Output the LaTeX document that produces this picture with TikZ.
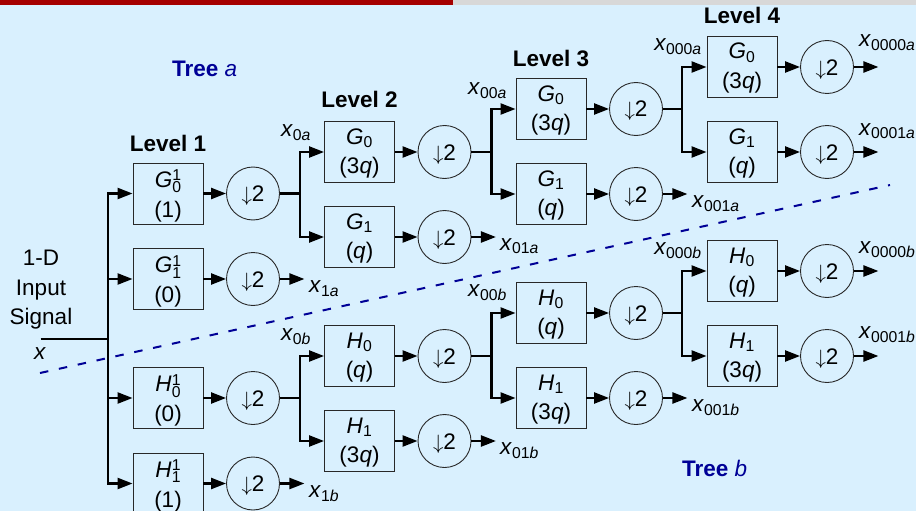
\documentclass[tikz,border=0pt]{standalone}
\usepackage{fontspec}
\setmainfont{Liberation Sans}
\usetikzlibrary{arrows.meta,calc}
\definecolor{bg}{RGB}{217,240,254}
\definecolor{navy}{RGB}{0,0,150}
\definecolor{barred}{RGB}{165,0,0}
\definecolor{bargray}{RGB}{216,216,216}
\definecolor{edge}{RGB}{40,40,40}
\newcommand{\xs}[1]{\textit{x}\textsubscript{#1}}
\newcommand{\smallfs}{\fontsize{15.75}{15.75}\selectfont}
\newcommand{\subsup}[3]{\textit{#1}\rlap{\raisebox{6.2pt}{\smallfs #3}}\raisebox{-5.5pt}{\smallfs #2}}
\newcommand{\boxlines}[5]{%
  \node[txt] (#1-u) at ([yshift=#2]#1.center) {#4};
  \node[txt] (#1-d) at ([yshift=-#3]#1.center) {#5};}
\begin{document}
\begin{tikzpicture}[x=1pt,y=-1pt,
  every node/.style={font=\fontsize{22.5}{30}\selectfont, inner sep=0pt},
  box/.style={draw=edge, line width=0.9pt, minimum width=70pt, minimum height=61pt},
  dsamp/.style={circle, draw=edge, line width=0.9pt, minimum size=53pt, text height=16pt, text depth=0pt},
  wire/.style={line width=2.3pt},
  arr/.style={wire, -{Triangle[length=15pt,width=11pt]}},
  txt/.style={anchor=base},
  outl/.style={anchor=base west},
  lvl/.style={anchor=base, font=\fontsize{22.5}{30}\selectfont\bfseries},
  tree/.style={anchor=base west, text=navy}]
\clip (0,0) rectangle (916,511);
\fill[bg] (0,0) rectangle (916,511);
\fill[barred] (0,0) rectangle (453,5);
\fill[bargray] (453,0) rectangle (916,5);

% dashed separator
\coordinate (dsA) at (40,373);
\coordinate (dsB) at (890,185);
\draw[navy, line width=2pt, dash pattern=on 8.5pt off 10.8pt] (dsA) -- (dsB);

% ---------- boxes ----------
% level 1
\node[box] (g1)  at (168,193.5) {};
\node[box] (g1b) at (168,279) {};
\node[box] (h1)  at (168,398) {};
\node[box] (h1b) at (168,483.5) {};
% level 2
\node[box] (g2)  at (359.5,152) {};
\node[box] (g2b) at (359.5,237) {};
\node[box] (h2)  at (359.5,356) {};
\node[box] (h2b) at (359.5,441) {};
% level 3
\node[box] (g3)  at (551,109) {};
\node[box] (g3b) at (551,194) {};
\node[box] (h3)  at (551,313) {};
\node[box] (h3b) at (551,398) {};
% level 4
\node[box] (g4)  at (742,67) {};
\node[box] (g4b) at (742,152) {};
\node[box] (h4)  at (742,271) {};
\node[box] (h4b) at (742,356) {};

\boxlines{g1}{6.5pt}{23.5pt}{\subsup{G}{0}{1}}{(1)}
\boxlines{g1b}{6.5pt}{23.5pt}{\subsup{G}{1}{1}}{(0)}
\boxlines{h1}{6.5pt}{23.5pt}{\subsup{H}{0}{1}}{(0)}
\boxlines{h1b}{6.5pt}{23.5pt}{\subsup{H}{1}{1}}{(1)}
\boxlines{g2}{8pt}{21.5pt}{\textit{G}\textsubscript{0}}{(3\textit{q})}
\boxlines{g2b}{8pt}{21.5pt}{\textit{G}\textsubscript{1}}{(\textit{q})}
\boxlines{h2}{8pt}{21.5pt}{\textit{H}\textsubscript{0}}{(\textit{q})}
\boxlines{h2b}{8pt}{21.5pt}{\textit{H}\textsubscript{1}}{(3\textit{q})}
\boxlines{g3}{8pt}{21.5pt}{\textit{G}\textsubscript{0}}{(3\textit{q})}
\boxlines{g3b}{8pt}{21.5pt}{\textit{G}\textsubscript{1}}{(\textit{q})}
\boxlines{h3}{8pt}{21.5pt}{\textit{H}\textsubscript{0}}{(\textit{q})}
\boxlines{h3b}{8pt}{21.5pt}{\textit{H}\textsubscript{1}}{(3\textit{q})}
\boxlines{g4}{8pt}{21.5pt}{\textit{G}\textsubscript{0}}{(3\textit{q})}
\boxlines{g4b}{8pt}{21.5pt}{\textit{G}\textsubscript{1}}{(\textit{q})}
\boxlines{h4}{8pt}{21.5pt}{\textit{H}\textsubscript{0}}{(\textit{q})}
\boxlines{h4b}{8pt}{21.5pt}{\textit{H}\textsubscript{1}}{(3\textit{q})}

% ---------- downsamplers ----------
\foreach \n/\cx in {g1/253,g1b/253,h1/253,h1b/253,g2/444.5,g2b/444.5,h2/444.5,h2b/444.5,
                    g3/636,g3b/636,h3/636,h3b/636,g4/827,g4b/827,h4/827,h4b/827}
  \node[dsamp] (d\n) at (\n.center -| \cx,0) {$\downarrow$2};
\foreach \n in {g1,g1b,h1,h1b,g2,g2b,h2,h2b,g3,g3b,h3,h3b,g4,g4b,h4,h4b}
  \draw[arr] (\n.east) -- (d\n.west);

% ---------- input ----------
\node[txt] (in1) at (41,265) {1-D};
\node[txt] (in2) at (41,295) {Input};
\node[txt] (in3) at (41,324) {Signal};
\node[txt] (inx) at (40,359) {\textit{x}};
\coordinate (in) at (40.5,339);
\coordinate (j1) at (108,339);
\draw[wire] (in) -- (j1);
\foreach \n in {g1,g1b,h1,h1b} \draw[arr] (j1) |- (\n.west);

% ---------- branches ----------
\coordinate (j2a) at (300,193.5);
\coordinate (j3a) at (491.5,152);
\coordinate (j4a) at (682,109);
\coordinate (j2b) at (300,398);
\coordinate (j3b) at (491.5,356);
\coordinate (j4b) at (682,313);
\draw[wire] (dg1.east) -- (j2a);
\draw[wire] (dg2.east) -- (j3a);
\draw[wire] (dg3.east) -- (j4a);
\draw[wire] (dh1.east) -- (j2b);
\draw[wire] (dh2.east) -- (j3b);
\draw[wire] (dh3.east) -- (j4b);
\draw[arr] (j2a) |- (g2.west);  \draw[arr] (j2a) |- (g2b.west);
\draw[arr] (j3a) |- (g3.west);  \draw[arr] (j3a) |- (g3b.west);
\draw[arr] (j4a) |- (g4.west);  \draw[arr] (j4a) |- (g4b.west);
\draw[arr] (j2b) |- (h2.west);  \draw[arr] (j2b) |- (h2b.west);
\draw[arr] (j3b) |- (h3.west);  \draw[arr] (j3b) |- (h3b.west);
\draw[arr] (j4b) |- (h4.west);  \draw[arr] (j4b) |- (h4b.west);

% branch labels
\node[txt] (x0a)   at (296,136.5) {\xs{0\textit{a}}};
\node[txt] (x00a)  at (487.5,94.5) {\xs{00\textit{a}}};
\node[txt] (x000a) at (678,50.5) {\xs{000\textit{a}}};
\node[txt] (x0b)   at (296,340) {\xs{0\textit{b}}};
\node[txt] (x00b)  at (487.5,296) {\xs{00\textit{b}}};
\node[txt] (x000b) at (678,254.5) {\xs{000\textit{b}}};

% ---------- outputs ----------
\foreach \n in {g1b,g2b,g3b,g4,g4b,h1b,h2b,h3b,h4,h4b}
  \coordinate (o\n) at ([xshift=24.5pt]d\n.east);
\foreach \n in {g1b,g2b,g3b,g4,g4b,h1b,h2b,h3b,h4,h4b}
  \draw[arr] (d\n.east) -- (o\n);

\node[outl] (x1a)    at (309,292.5) {\xs{1\textit{a}}};
\node[outl] (x01a)   at (500,250) {\xs{01\textit{a}}};
\node[outl] (x001a)  at (692,207.5) {\xs{001\textit{a}}};
\node[outl] (x0000a) at (859,47) {\xs{0000\textit{a}}};
\node[outl] (x0001a) at (859,135) {\xs{0001\textit{a}}};
\node[outl] (x1b)    at (309,497) {\xs{1\textit{b}}};
\node[outl] (x01b)   at (500,454.5) {\xs{01\textit{b}}};
\node[outl] (x001b)  at (692,411.5) {\xs{001\textit{b}}};
\node[outl] (x0000b) at (859,253) {\xs{0000\textit{b}}};
\node[outl] (x0001b) at (859,338) {\xs{0001\textit{b}}};

% ---------- level / tree labels ----------
\node[lvl] (lv1) at (168,151.7) {Level 1};
\node[lvl] (lv2) at (359.5,107.3) {Level 2};
\node[lvl] (lv3) at (551,66.7) {Level 3};
\node[lvl] (lv4) at (742,23.3) {Level 4};
\node[tree] (ta) at (172,76.7) {\textbf{Tree} \textit{a}};
\node[tree] (tb) at (682,476.7) {\textbf{Tree} \textit{b}};
\end{tikzpicture}
\end{document}
